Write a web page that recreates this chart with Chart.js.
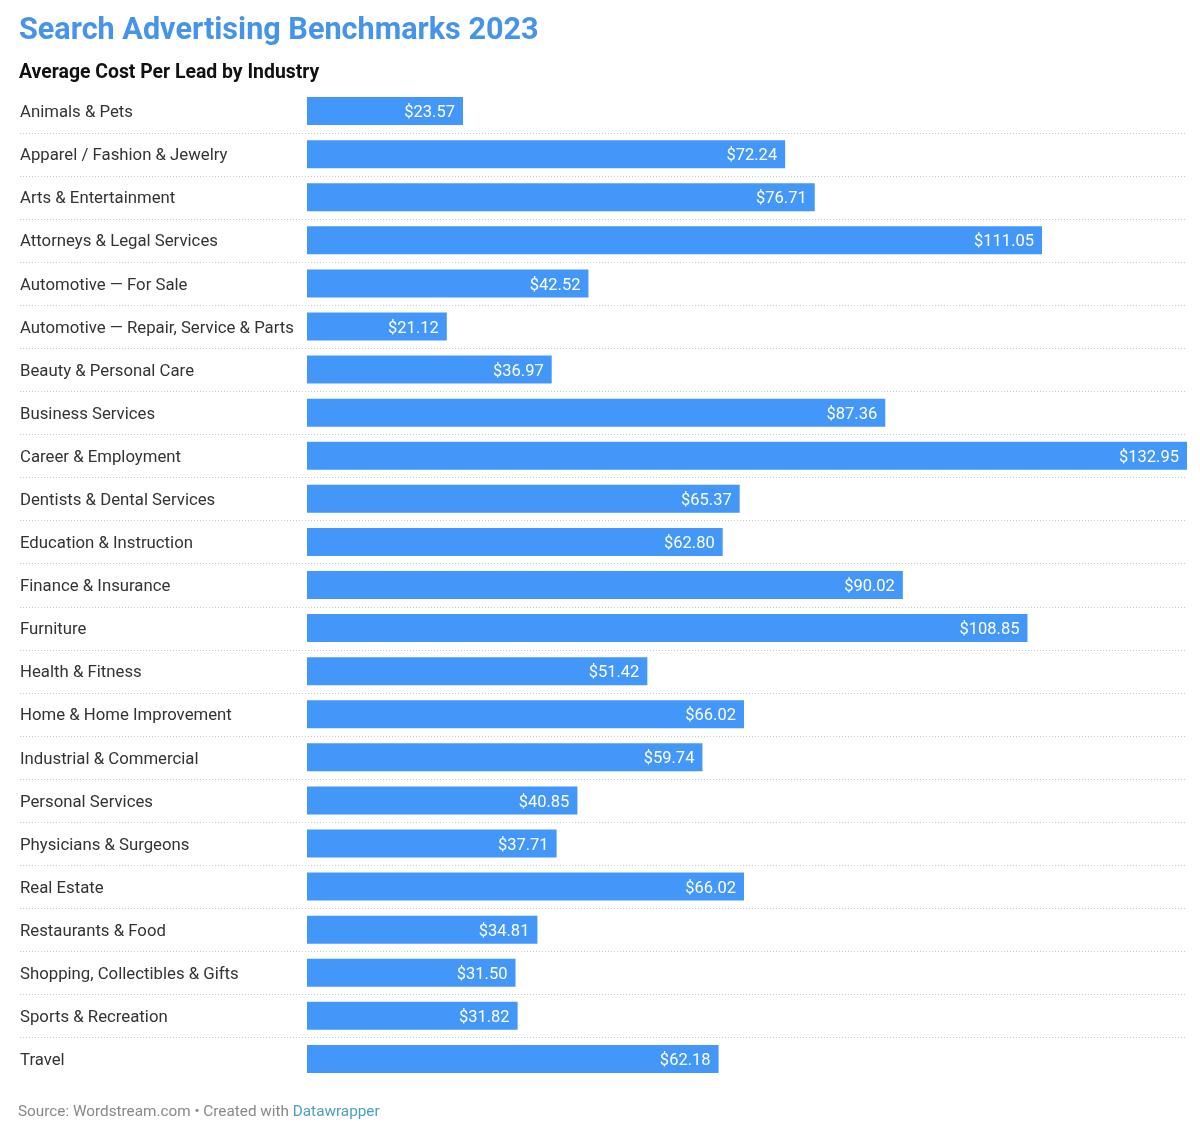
<!DOCTYPE html>
<html>
<head>
<meta charset="utf-8">
<script src="https://cdn.jsdelivr.net/npm/chart.js@4"></script>
<style>
  html, body { margin: 0; padding: 0; background: #fff; }
  body { width: 1200px; height: 1135px; position: relative; overflow: hidden; font-family: Roboto, sans-serif; }
  #chartWrap { position: absolute; left: 0; top: 0; width: 1200px; height: 1135px; }
  .title { position: absolute; left: 19px; top: 9px; font-size: 30.6px; font-weight: 700; color: #4594ea; line-height: 40px; }
  .subtitle { position: absolute; left: 19px; top: 59px; font-size: 19.4px; font-weight: 700; color: #111; line-height: 26px; }
  .footer { position: absolute; left: 18px; top: 1101px; font-size: 15.3px; color: #888; line-height: 20px; }
  .footer span { color: #4a9fc0; }
</style>
</head>
<body>
<div id="chartWrap"><canvas id="chart"></canvas></div>
<div class="title">Search Advertising Benchmarks 2023</div>
<div class="subtitle">Average Cost Per Lead by Industry</div>
<div class="footer">Source: Wordstream.com • Created with <span>Datawrapper</span></div>
<script>
// categories and values
const industries = [
  'Animals & Pets',
  'Apparel / Fashion & Jewelry',
  'Arts & Entertainment',
  'Attorneys & Legal Services',
  'Automotive — For Sale',
  'Automotive — Repair, Service & Parts',
  'Beauty & Personal Care',
  'Business Services',
  'Career & Employment',
  'Dentists & Dental Services',
  'Education & Instruction',
  'Finance & Insurance',
  'Furniture',
  'Health & Fitness',
  'Home & Home Improvement',
  'Industrial & Commercial',
  'Personal Services',
  'Physicians & Surgeons',
  'Real Estate',
  'Restaurants & Food',
  'Shopping, Collectibles & Gifts',
  'Sports & Recreation',
  'Travel',
];

const costPerLead = [
  23.57, 72.24, 76.71, 111.05, 42.52, 21.12, 36.97, 87.36, 132.95, 65.37, 62.80,
  90.02, 108.85, 51.42, 66.02, 59.74, 40.85, 37.71, 66.02, 34.81, 31.50, 31.82, 62.18,
];

const barColor = '#4297f8';

// dotted separators between rows, spanning the label column too
const separators = {
  id: 'separators',
  beforeDatasetsDraw(chart) {
    const { ctx, scales: { y }, chartArea } = chart;
    ctx.save();
    ctx.strokeStyle = '#c8c8c8';
    ctx.lineWidth = 1;
    ctx.setLineDash([1, 2]);
    for (let i = 0; i < industries.length - 1; i++) {
      const yy = Math.round((y.getPixelForTick(i) + y.getPixelForTick(i + 1)) / 2) + 0.5;
      ctx.beginPath();
      ctx.moveTo(20, yy);
      ctx.lineTo(chartArea.right, yy);
      ctx.stroke();
    }
    ctx.restore();
  },
};

// value labels inside the bar end
const valueLabels = {
  id: 'valueLabels',
  afterDatasetsDraw(chart) {
    const { ctx } = chart;
    const meta = chart.getDatasetMeta(0);
    ctx.save();
    ctx.fillStyle = '#fff';
    ctx.font = '16.5px Roboto';
    ctx.textAlign = 'right';
    ctx.textBaseline = 'middle';
    meta.data.forEach((bar, i) => {
      ctx.fillText('$' + costPerLead[i].toFixed(2), bar.x - 8, bar.y + 2);
    });
    ctx.restore();
  },
};

new Chart(document.getElementById('chart'), {
  type: 'bar',
  data: {
    labels: industries,
    datasets: [{
      data: costPerLead,
      backgroundColor: barColor,
      borderWidth: 0,
      barPercentage: 0.65,
      categoryPercentage: 1,
    }],
  },
  options: {
    indexAxis: 'y',
    responsive: true,
    maintainAspectRatio: false,
    animation: false,
    layout: { padding: { left: 20, right: 13, top: 89.5, bottom: 54.5 } },
    plugins: { legend: { display: false }, tooltip: { enabled: false }, title: { display: false } },
    scales: {
      x: { display: false, min: 0, max: Math.max(...costPerLead) },
      y: {
        grid: { display: false },
        border: { display: false },
        afterFit: scale => { scale.width = 287; },
        ticks: {
          crossAlign: 'far',
          labelOffset: 2,
          color: '#333',
          font: { family: 'Roboto', size: 16.75 },
        },
      },
    },
  },
  plugins: [separators, valueLabels],
});
</script>
</body>
</html>
